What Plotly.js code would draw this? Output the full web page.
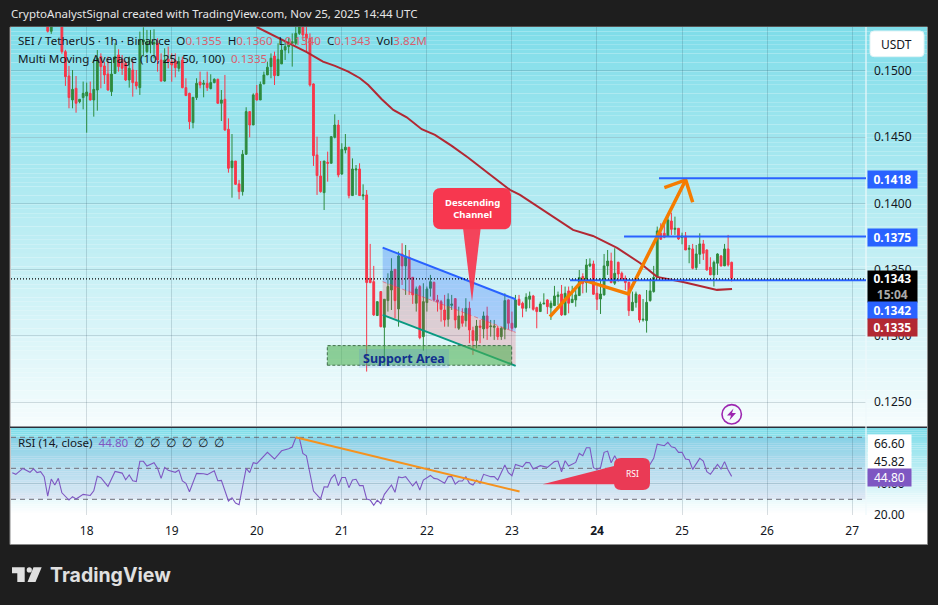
<!DOCTYPE html>
<html><head><meta charset="utf-8">
<script src="https://cdn.plot.ly/plotly-3.0.1.min.js"></script>
<style>html,body{margin:0;padding:0;background:#1e1e1e}#c{width:938px;height:605px}</style></head>
<body><div id="c"></div>
<script>
// ---- data ----
const firstCandleHour = 10;      // hourly candle index; index 21 is Nov 18 00:00
const opens = [
.1536,.153,.1538,.154,.1537,.15146,.14962,.14781,.14869,.14768,
.14799,.14811,.14831,.14781,.14856,.15108,.15038,.14977,.14844,.14982,
.15121,.15088,.15058,.14932,.15007,.14917,.14874,.1522,.15146,.15209,
.15204,.15209,.15083,.14924,.15088,.1507,.15078,.1502,.15083,.14874,
.14831,.1461,.14799,.14917,.14899,.14907,.14867,.14912,.14937,.14756,
.14786,.1456,.1427,.1432,.14147,.14089,.14371,.14693,.14592,.14831,
.14781,.14902,.1497,.15033,.15113,.14965,.15053,.15158,.15184,.15209,
.15209,.15284,.15335,.15279,.15247,.14902,.14366,.14207,.14081,.1431,
.14303,.14499,.14592,.14222,.14403,.14424,.14059,.14252,.1426,.14056,
.14064,.13434,.13409,.13153,.13334,.13064,.13266,.13346,.13502,.13203,
.13618,.13528,.13593,.13442,.13246,.13372,.12994,.13251,.13359,.13404,
.13271,.13258,.13195,.13125,.1323,.13281,.13057,.1315,.13115,.13208,
.13039,.12964,.13074,.13052,.1315,.13069,.13064,.13057,.12994,.13049,
.13271,.13095,.13064,.13276,.13246,.13208,.13276,.13301,.13213,.13183,
.1324,.13271,.13213,.13228,.13296,.13316,.13158,.13339,.13251,.13271,
.13304,.13447,.13402,.13528,.13543,.13321,.13278,.13309,.13528,.13565,
.13397,.13555,.13472,.13434,.13404,.1319,.13251,.13309,.1312,.13115,
.13266,.13334,.13442,.13774,.13774,.13754,.13867,.13804,.13812,.13742,
.13754,.13653,.13656,.13515,.13616,.13694,.13648,.13518,.1346,.13548,
.13603,.13528,.13656,.13555];
const highs = [
.1543,.1541,.1545,.1546,.1545,.1516,.15038,.15007,.14962,.14786,
.1492,.14912,.1492,.15088,.15158,.15133,.1507,.15108,.15083,.15209,
.15164,.15121,.15078,.15108,.15083,.15007,.15297,.1533,.1531,.1531,
.15315,.15247,.15133,.15171,.15184,.15133,.15133,.15108,.15108,.14945,
.14836,.14801,.14945,.14995,.14932,.14995,.14975,.14945,.14942,.14856,
.1497,.14642,.14524,.1432,.14177,.14403,.14726,.14693,.14831,.14894,
.1492,.14995,.1507,.15133,.15146,.15209,.15234,.15221,.15247,.15284,
.15335,.1541,.1541,.15335,.15284,.14907,.14504,.1432,.1432,.14391,
.14504,.14673,.1463,.14454,.14524,.14424,.1434,.1429,.14303,.14144,
.14101,.13694,.13528,.13258,.13334,.13276,.13472,.13586,.13502,.13636,
.13699,.13686,.13648,.13442,.13372,.13384,.13397,.13372,.1346,.13409,
.13309,.13271,.13309,.13321,.13309,.13281,.1322,.13208,.13284,.13258,
.13069,.1312,.1312,.13183,.1322,.1312,.1312,.13074,.13069,.13321,
.13276,.13183,.13309,.13309,.13258,.13321,.13334,.13309,.1322,.13258,
.13321,.13276,.13266,.13377,.13334,.13384,.13372,.13372,.13377,.13346,
.13497,.13472,.1358,.13585,.13568,.13377,.13434,.13618,.13648,.13628,
.13661,.1356,.13485,.13455,.13409,.13334,.13334,.13314,.13278,.13346,
.13429,.13528,.13825,.1385,.13875,.13913,.1393,.139,.13812,.13779,
.13784,.13686,.13694,.13686,.13774,.13724,.13653,.13593,.13568,.13623,
.1361,.13694,.13762,.1356];
const lows = [
.1529,.1528,.1536,.1534,.1513,.14887,.14718,.14718,.14685,.14756,
.1471,.14534,.14776,.14655,.147,.14869,.14902,.14851,.14811,.14977,
.14995,.1497,.14924,.14874,.14806,.14861,.14819,.1511,.15133,.15133,
.15096,.14995,.14919,.14919,.1502,.14919,.14952,.14995,.14869,.14811,
.1456,.14567,.14781,.14869,.14801,.14849,.14861,.14907,.14751,.14622,
.14549,.14232,.14043,.14139,.14031,.14059,.14366,.14499,.14592,.14776,
.14781,.14902,.1497,.14945,.14894,.14962,.15053,.15083,.15133,.15033,
.15196,.15272,.15234,.15146,.14882,.14283,.14064,.14081,.1395,.14164,
.14303,.14491,.14197,.14215,.14378,.14038,.14059,.14064,.14059,.14026,
.1273,.13397,.1315,.1315,.13064,.1278,.13183,.13195,.13132,.13069,
.13384,.13309,.13309,.13241,.13183,.12974,.12888,.13183,.13296,.13258,
.13183,.13107,.13069,.13069,.13195,.13057,.13044,.13069,.13069,.12944,
.12856,.12906,.12944,.12981,.12969,.12994,.12969,.12969,.12969,.12974,
.13049,.13032,.13057,.13226,.1314,.13183,.13208,.1319,.13057,.13183,
.1324,.13165,.1312,.13228,.13233,.1315,.13158,.1317,.13251,.1322,
.13304,.13321,.13326,.13518,.13309,.13195,.13165,.13304,.1346,.13397,
.13384,.13409,.13417,.13346,.1315,.1319,.13213,.131,.13107,.13024,
.13258,.13326,.13434,.13724,.13737,.13749,.13762,.13762,.13724,.13691,
.13648,.13548,.13502,.13497,.13543,.13573,.13492,.1346,.13372,.1346,
.13523,.13528,.13523,.1341];
const closes = [
.153,.1536,.154,.1538,.15146,.14957,.14799,.14861,.14756,.14786,
.14831,.14841,.14781,.14861,.15096,.15033,.1497,.14856,.14977,.15108,
.15033,.1502,.14932,.1502,.14912,.14887,.15234,.15235,.15221,.15221,
.15214,.15083,.14924,.15083,.1507,.15045,.15025,.1507,.14874,.14814,
.14617,.14801,.14907,.14894,.14907,.14874,.14912,.14937,.14756,.14781,
.14554,.14265,.1432,.14144,.14089,.14371,.14693,.14592,.14819,.14781,
.14899,.1497,.15028,.15096,.14965,.15088,.15158,.15184,.15209,.15221,
.15284,.15335,.15272,.15247,.14894,.14361,.1421,.14089,.1432,.14303,
.14504,.14592,.14215,.14408,.14424,.14059,.1426,.1426,.14059,.14064,
.13402,.13402,.13158,.13258,.13069,.13276,.13372,.1349,.13266,.13603,
.13528,.13593,.13434,.13309,.13354,.12986,.13258,.13354,.13409,.13271,
.13258,.132,.1312,.13276,.1324,.1312,.1315,.13095,.13208,.13044,
.12964,.13074,.13064,.1315,.13057,.13074,.13074,.12994,.13057,.13266,
.13095,.13057,.13271,.13233,.13208,.13291,.13301,.132,.13183,.1324,
.13246,.1322,.13246,.13301,.13309,.13158,.13321,.13246,.13276,.13309,
.1344,.13397,.13535,.13543,.13314,.13276,.13316,.13528,.13565,.13402,
.13472,.13467,.13429,.13402,.1319,.13253,.13316,.1312,.13125,.13253,
.13339,.13442,.13792,.13729,.13744,.13875,.13804,.13812,.13731,.13754,
.13648,.13661,.1351,.13618,.13694,.13623,.13497,.1346,.13555,.13618,
.13528,.13656,.13535,.13434];
const rsiHours = [0,1,3,5,6,7,8,9,10,11,12,13,14,16,17,18,20,22,23,24,25,27,29,31,32,33,34,35,36,37,38,40,41,42,43,44,46,47,48,49,50,52,54,55,57,58,59,61,62,63,64,65,66,67,68,69,70,72,74,76,78,79,80,81,82,83,85,87,88,89,90,91,92,93,94,95,96,97,98,99,100,101,102,103,104,105,107,108,109,110,111,113,114,115,116,118,119,120,122,123,124,125,126,127,128,129,130,131,132,133,135,136,137,139,140,141,142,144,145,146,147,149,151,153,154,155,156,157,159,160,161,162,163,164,165,166,167,168,169,170,171,173,174,175,177,178,179,181,182,184,185,186,187,188,189,190,191,192,194,195,196,197,199,200,201,202,203];
const rsiValues = [47.2,46.1,49.9,47.4,49.7,47.2,47.8,44.6,32.1,43.1,39.2,43.5,34.2,29.5,31.7,30.2,33.2,32.5,35.5,44.8,43.9,38.3,48,46.9,42.6,45.7,42,41.4,54.5,54.5,51.5,53.6,50,43.5,50.6,48.7,47.4,48.9,41.8,40.3,34.9,46.7,46.5,45.9,48.4,42,42.2,28.9,31,27.6,26.5,39.2,49.9,47.2,53.6,53,55.5,60.3,56,61.3,62.6,63.7,69.7,69.7,59.6,58.1,35.3,30.2,38.1,37.9,43.5,46.1,38.8,44.1,44.1,37.5,42.4,42.9,38.8,38.8,30.2,29.5,26.1,29.5,27.2,33.2,39.2,34.5,44.4,43.9,44.6,38.6,41.4,36,42.4,45.4,43.5,43.1,40.3,44.6,44.6,39.8,41.8,41.8,44.6,40.3,39.2,42.4,40.3,46.1,44.6,44.6,42.4,52.1,47.2,45.2,52.5,51,53.8,53.6,49.5,51.7,50.6,54.3,54.7,47.8,54.9,51.5,53.8,59.6,58.1,63.3,63.3,50.4,49.3,50.4,60.3,61.1,53.6,58.1,53.8,51.7,43.5,48.9,42.4,41.4,48.9,56.4,65.6,64.6,66.7,63.9,63.3,60.3,60.3,56,55.5,49.3,56.4,54.7,47.8,46.1,52.5,49.5,54.3,48.9,44.8];
const maDays = [19.999,20.234,20.587,20.778,20.919,21.076,21.213,21.311,21.469,21.605,21.763,21.939,22.095,22.292,22.487,22.722,22.977,23.095,23.33,23.447,23.718,23.953,24.236,24.506,24.706,25.012,25.212,25.411,25.588];
const maValues = [.15332,.15259,.15143,.1507,.15038,.14995,.14945,.14894,.14786,.14706,.1465,.1456,.14517,.14434,.14345,.14228,.14102,.14064,.13966,.13913,.138,.13754,.13664,.1355,.13445,.13407,.13377,.13347,.13354];
const dayTicks = [18,19,20,21,22,23,24,25,26,27];
const dayLabels = ['18','19','20','21','22','23','<b>24</b>','25','26','27'];
const priceTicks = [.125,.13,.135,.14,.145,.15];
const rsiTicks = [20,40];
const rsiLevels = [70,50,30];
const lastPrice = .1343;
const levelStart = [24.729,24.318,23.683];
const levelPrice = [.1419,.1375,.1342];
const channelDays = [21.48,23.044];
const channelTop = [.13666,.13276];
const channelMid = [.13409,.13026];
const channelLow = [.13158,.12773];
const supportDays = [20.829,22.997];
const supportPrices = [.12778,.12926];
const pathDays = [23.447,23.835,24.368,25.043];
const pathPrices = [.13145,.13422,.13316,.14177];
const headDays = [24.792,25.043,25.125];
const headPrices = [.14119,.14177,.14009];
const rsiTrendDays = [20.455,23.09];
const rsiTrendValues = [70,35];

// ---- helpers ----
const W=938,H=605;
const px=x=>x/W, py=y=>1-y/H;
const PL=11,PR=866,PE=927;
const dayOf=h=>18+(h-21)/24;
const candleDays=opens.map((_,i)=>dayOf(firstCandleHour+i));
const xRange=[17.11,27.163];
const yRange=[.12319,.15332];
const rRange=[19.87,76];
function rr(x0,y0,x1,y1,r){const X=px,Y=py;return `M${X(x0+r)},${Y(y0)}L${X(x1-r)},${Y(y0)}Q${X(x1)},${Y(y0)} ${X(x1)},${Y(y0+r)}L${X(x1)},${Y(y1-r)}Q${X(x1)},${Y(y1)} ${X(x1-r)},${Y(y1)}L${X(x0+r)},${Y(y1)}Q${X(x0)},${Y(y1)} ${X(x0)},${Y(y1-r)}L${X(x0)},${Y(y0+r)}Q${X(x0)},${Y(y0)} ${X(x0+r)},${Y(y0)}Z`;}
function poly(pts){return 'M'+pts.map(p=>px(p[0])+','+py(p[1])).join('L')+'Z';}
const pp=(path,fill,extra)=>Object.assign({type:'path',xref:'paper',yref:'paper',path,fillcolor:fill,line:{width:0},layer:'above'},extra||{});

const shapes=[];
shapes.push({type:'rect',xref:'paper',yref:'paper',x0:px(10),x1:px(PE+0.5),y0:py(27),y1:py(544.5),fillcolor:'#ffffff',line:{color:'#8a8a8a',width:1},layer:'below'});
function band(y0,y1,c0,c1,n,x1){for(let i=0;i<n;i++){const t=i/(n-1);const c=c0.map((v,k)=>Math.round(v+(c1[k]-v)*t));
  shapes.push({type:'rect',xref:'paper',yref:'paper',x0:px(PL),x1:px(x1),y0:py(y0+(y1-y0)*i/n),y1:py(y0+(y1-y0)*(i+1)/n),fillcolor:`rgb(${c})`,line:{width:0},layer:'below'});}}
band(27,426,[127,221,233],[245,252,253],90,PE);
band(428,515,[127,221,233],[255,255,255],40,PE);
shapes.push({type:'rect',xref:'paper',yref:'paper',x0:px(PL),x1:px(PR),y0:py(437.3),y1:py(499.3),fillcolor:'rgba(110,80,190,0.10)',line:{width:0},layer:'below'});
shapes.push({type:'line',xref:'paper',yref:'paper',x0:px(10),x1:px(PE),y0:py(427.3),y1:py(427.3),line:{color:'#2a2e39',width:1.5},layer:'above'});
shapes.push({type:'line',xref:'paper',yref:'paper',x0:px(PR),x1:px(PR),y0:py(27),y1:py(515),line:{color:'#eef9fb',width:1.2},layer:'above'});
rsiLevels.forEach(v=>shapes.push({type:'line',xref:'x2',yref:'y2',x0:xRange[0],x1:xRange[1],y0:v,y1:v,line:{color:'#6f6f78',width:1,dash:'5px,4px'},layer:'below'}));
const dayPt=(d,p)=>d+','+p;
shapes.push({type:'path',xref:'x',yref:'y',path:`M${dayPt(channelDays[0],channelTop[0])}L${dayPt(channelDays[1],channelTop[1])}L${dayPt(channelDays[1],channelMid[1])}L${dayPt(channelDays[0],channelMid[0])}Z`,fillcolor:'rgba(41,98,255,0.27)',line:{width:0},layer:'above'});
shapes.push({type:'path',xref:'x',yref:'y',path:`M${dayPt(channelDays[0],channelMid[0])}L${dayPt(channelDays[1],channelMid[1])}L${dayPt(channelDays[1],channelLow[1])}L${dayPt(channelDays[0],channelLow[0])}Z`,fillcolor:'rgba(242,54,69,0.20)',line:{width:0},layer:'above'});
shapes.push({type:'line',xref:'x',yref:'y',x0:channelDays[0],x1:channelDays[1],y0:channelMid[0],y1:channelMid[1],line:{color:'rgba(242,54,69,0.55)',width:1,dash:'4px,3px'},layer:'above'});
shapes.push({type:'line',xref:'x',yref:'y',x0:channelDays[0],x1:channelDays[1],y0:channelTop[0],y1:channelTop[1],line:{color:'#2962ff',width:2},layer:'above'});
shapes.push({type:'line',xref:'x',yref:'y',x0:channelDays[0],x1:channelDays[1],y0:channelLow[0],y1:channelLow[1],line:{color:'#089981',width:2},layer:'above'});
shapes.push({type:'rect',xref:'x',yref:'y',x0:supportDays[0],x1:supportDays[1],y0:supportPrices[0],y1:supportPrices[1],fillcolor:'rgba(76,175,80,0.58)',line:{color:'#3f6f4a',width:1,dash:'3px,2px'},layer:'above'});
shapes.push({type:'rect',xref:'paper',yref:'paper',x0:px(359),x1:px(449),y0:py(349),y1:py(367.7),fillcolor:'rgba(41,98,255,0.13)',line:{width:0},layer:'above'});
levelPrice.forEach((p,i)=>shapes.push({type:'line',xref:'x',yref:'y',x0:levelStart[i],x1:xRange[1],y0:p,y1:p,line:{color:'#2962ff',width:2},layer:'above'}));
shapes.push({type:'line',xref:'x',yref:'y',x0:xRange[0],x1:xRange[1],y0:lastPrice,y1:lastPrice,line:{color:'#000000',width:1.2,dash:'1px,2px'},layer:'above'});
shapes.push(pp(rr(433,188,511,229.3,8),'#f7374f'));
shapes.push(pp(poly([[463,228],[480.7,228],[472,301.7]]),'rgba(247,55,79,0.93)'));
shapes.push(pp(rr(614,458,650,490,7),'#ea3a55'));
shapes.push(pp(poly([[542.7,484.3],[618,465],[618,484.3]]),'#ea3a55'));
shapes.push({type:'circle',xref:'paper',yref:'paper',x0:px(722),x1:px(741.4),y0:py(404.6),y1:py(424),fillcolor:'rgba(0,0,0,0)',line:{color:'#9c27b0',width:1.6},layer:'above'});
shapes.push(pp(poly([[733.5,408.5],[727,415.5],[731,415.5],[729.5,420.2],[736,413],[732,413]]),'#9c27b0'));
shapes.push(pp(rr(870,31,924,56.7,4),'#ffffff',{line:{color:'#e0f3f6',width:1}}));
shapes.push(pp(poly([[12,567.3],[24.7,567.3],[24.7,582],[17.3,582],[17.3,573.3],[12,573.3]]),'#e0e0e0'));
shapes.push({type:'circle',xref:'paper',yref:'paper',x0:px(26.7),x1:px(31.9),y0:py(567.3),y1:py(572.5),fillcolor:'#e0e0e0',line:{width:0},layer:'above'});
shapes.push(pp(poly([[33.5,567.3],[41.7,567.3],[35.5,582],[27.5,582]]),'#e0e0e0'));

const ann=[];
function label(text,x,y,size,color,extra){ann.push(Object.assign({xref:'paper',yref:'paper',x:px(x),y:py(y),xanchor:'left',yanchor:'middle',text,showarrow:false,align:'left',font:{size,color,family:'"Noto Sans",sans-serif'}},extra||{}));}
function tag(text,x0,x1,y0,y1,bg,color,bold){ann.push({xref:'paper',yref:'paper',x:px(x0),y:py(y0),xanchor:'left',yanchor:'top',width:x1-x0,height:y1-y0,bgcolor:bg,borderpad:0,text:bold?`<b>${text}</b>`:text,showarrow:false,align:'center',valign:'middle',font:{size:12,color,family:'"Noto Sans",sans-serif'}});}
const R=s=>`<span style="color:#d9606e">${s}</span>`;
label('CryptoAnalystSignal created with TradingView.com, Nov 25, 2025 14:44 UTC',9,14,11.5,'#e6e6e6');
label(`SEI / TetherUS · 1h · Binance  O${R('0.1355')}  H${R('0.1360')}  L${R('0.1340')}  C${R('0.1343')}  Vol${R('3.82M')}`,16,41,11.6,'#131722');
label(`Multi Moving Average (10, 25, 50, 100)  ${R('0.1335')}`,16,59,11.6,'#131722');
label(`RSI (14, close)  <span style="color:#7e57c2">44.80</span>  ∅  ∅  ∅  ∅  ∅  ∅`,16,442.5,11.6,'#131722');
label('<b>Support Area</b>',360.5,358.5,12.5,'#12308f');
ann.push({xref:'paper',yref:'paper',x:px(472),y:py(208),xanchor:'center',yanchor:'middle',text:'<b>Descending<br>Channel</b>',showarrow:false,align:'center',font:{size:9.5,color:'#ffffff',family:'"Noto Sans",sans-serif'}});
ann.push({xref:'paper',yref:'paper',x:px(632),y:py(473),xanchor:'center',yanchor:'middle',text:'RSI',showarrow:false,font:{size:8.5,color:'#ffffff',family:'"Noto Sans",sans-serif'}});
label('USDT',879,44.5,12,'#131722');
tag('0.1418',867,915.7,170,186.7,'#2962ff','#ffffff',true);
tag('0.1375',867,915.7,228,244.7,'#2962ff','#ffffff',true);
tag('0.1343<br><span style="color:#aaaaaa">15:04</span>',867,915.7,270,301,'#000000','#ffffff',true);
tag('0.1342',867,915.7,301,317.7,'#2962ff','#ffffff',true);
tag('0.1335',867,915.7,317.7,335,'#b22833','#ffffff',true);
tag('66.60',867.3,910,434,451.7,'#ffffff','#131722');
tag('45.82',867.3,910,451.7,468.3,'#ffffff','#131722');
tag('44.80',867.3,910,468.3,485,'#7e57c2','#ffffff');
ann.push({xref:'paper',yref:'paper',x:px(48),y:py(575),xanchor:'left',yanchor:'middle',text:'<b>TradingView</b>',showarrow:false,font:{size:19.5,color:'#e0e0e0',family:'Inter,sans-serif'}});

const gridC='rgba(30,60,75,0.17)';
const traces=[
 {type:'candlestick',x:candleDays,open:opens,high:highs,low:lows,close:closes,xaxis:'x',yaxis:'y',
  increasing:{line:{color:'#2e8b3e',width:1},fillcolor:'#2e8b3e'},decreasing:{line:{color:'#f7374a',width:1},fillcolor:'#f7374a'},whiskerwidth:0,hoverinfo:'skip',showlegend:false},
 {type:'scatter',mode:'lines',x:maDays,y:maValues,xaxis:'x',yaxis:'y',line:{color:'#b22833',width:2},hoverinfo:'skip',showlegend:false},
 {type:'scatter',mode:'lines',x:pathDays,y:pathPrices,xaxis:'x',yaxis:'y',line:{color:'#f57c00',width:3.5},hoverinfo:'skip',showlegend:false},
 {type:'scatter',mode:'lines',x:headDays,y:headPrices,xaxis:'x',yaxis:'y',line:{color:'#f57c00',width:3.5},hoverinfo:'skip',showlegend:false},
 {type:'scatter',mode:'lines',x:rsiHours.map(dayOf),y:rsiValues,xaxis:'x2',yaxis:'y2',line:{color:'#7e57c2',width:1.1},hoverinfo:'skip',showlegend:false},
 {type:'scatter',mode:'lines',x:rsiTrendDays,y:rsiTrendValues,xaxis:'x2',yaxis:'y2',line:{color:'#f5921e',width:2},hoverinfo:'skip',showlegend:false}
];
const axFont={size:12,color:'#131722',family:'"Noto Sans",sans-serif'};
const layout={
 width:W,height:H,margin:{l:0,r:0,t:0,b:0},paper_bgcolor:'#1e1e1e',plot_bgcolor:'rgba(0,0,0,0)',showlegend:false,hovermode:false,
 boxmode:'overlay',boxgap:0.28,
 xaxis:{domain:[px(PL),px(PR)],range:xRange,anchor:'y',tickmode:'array',tickvals:dayTicks,showticklabels:false,ticks:'',showgrid:true,gridcolor:gridC,zeroline:false,showline:false,rangeslider:{visible:false}},
 yaxis:{domain:[py(426),py(27)],range:yRange,anchor:'x',side:'right',tickmode:'array',tickvals:priceTicks,tickformat:'.4f',ticks:'',ticklabelstandoff:7,tickfont:axFont,showgrid:true,gridcolor:gridC,zeroline:false,showline:false,automargin:false},
 xaxis2:{domain:[px(PL),px(PR)],range:xRange,anchor:'y2',tickmode:'array',tickvals:dayTicks,ticktext:dayLabels,ticks:'',ticklabelstandoff:7,tickfont:axFont,showgrid:true,gridcolor:gridC,zeroline:false,showline:false},
 yaxis2:{domain:[py(515),py(428)],range:rRange,anchor:'x2',side:'right',tickmode:'array',tickvals:rsiTicks,tickformat:'.2f',ticks:'',ticklabelstandoff:7,tickfont:axFont,showgrid:true,gridcolor:gridC,zeroline:false,showline:false,automargin:false},
 shapes,annotations:ann
};
Plotly.newPlot('c',traces,layout,{staticPlot:true,displayModeBar:false});
</script></body></html>
